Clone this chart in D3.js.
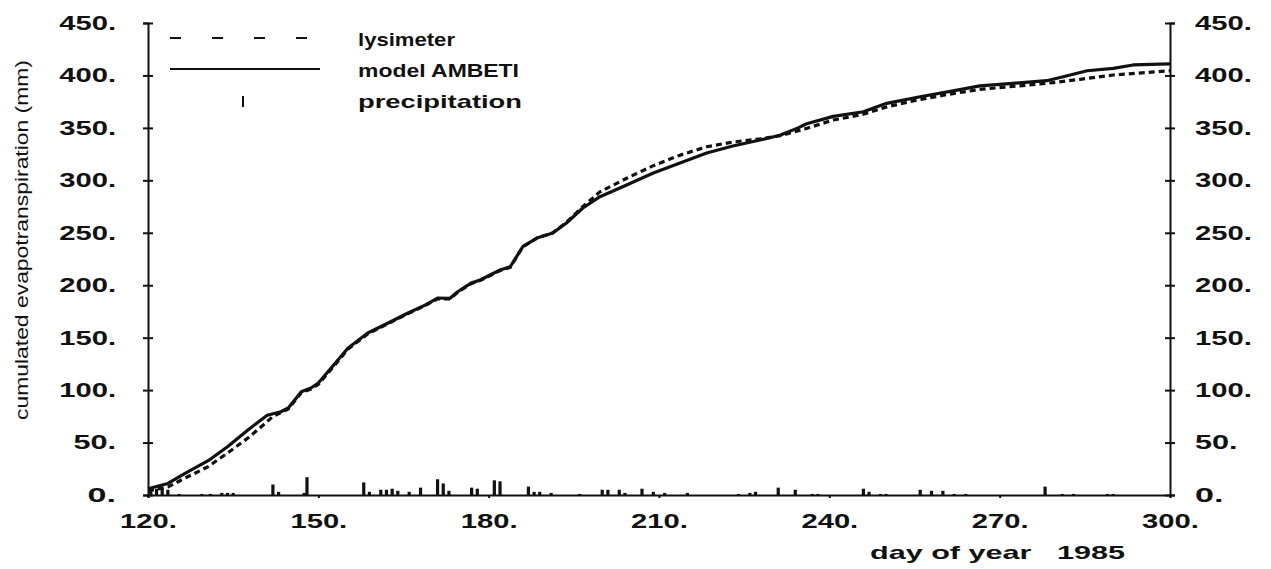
<!DOCTYPE html>
<html>
<head>
<meta charset="utf-8">
<script src="https://cdn.jsdelivr.net/npm/d3@7"></script>
<style>
  html, body { margin: 0; padding: 0; background: #fff; }
  svg { display: block; }
  text { font-family: "Liberation Sans", Arial, Helvetica, sans-serif; fill: #111; }
</style>
</head>
<body>
<svg id="chart" width="1271" height="569"></svg>
<script>
// ---- data ----
const modelDays = [120,123.5,127,130.6,134,137.6,141,143.4,144.7,147,148.7,150,153,155.2,158.7,162.3,165.8,168.8,171,173.2,174.6,176.9,178.5,182,183.8,186,188.5,191.3,193.7,196.6,199.6,204.3,209,213.7,218.4,223,227.8,231.3,234.5,236,240.7,246,250.1,256,262.5,266.5,272.3,278.3,281.2,285.4,290,293.5,300];
const modelET   = [6,11,22,32.7,46,62,76,79.4,83,98.5,102,106.8,125.8,140,154.4,164,173.5,181,187.8,187.5,194,202,205,214.5,217.6,236.7,245,249.8,259.3,273.6,284.4,295.5,307,316.5,326,332.7,338.4,343,350,354,361,365.4,373.4,379.7,386,390,392.5,395,398.8,404.5,406.8,410,411];

const lysiDays = [120,123.5,127,130.6,134,137.6,140.3,142,143.4,144.7,147,148.7,150,153,155.2,158.7,162.3,165.8,168.8,171,173.2,174.6,176.9,178.5,182,183.8,186,188.5,191.3,193.7,196.6,199.6,204.3,209,213.7,218.4,223,227.8,231.3,236,240.7,246,250.1,255.4,261,266.5,272.3,278.3,284.2,290,295,300];
const lysiET   = [4,7.6,17.4,27,40,54.3,66.7,75,78.5,82,97.5,101,105.5,124.5,139,153.5,163.5,173,180.5,187,187,193.5,201.5,204.5,214,217,236.5,245,250,260,275,289,302,314,324,332,336.5,339.5,342.5,349.5,357.5,363,370,376.5,382,386.7,389.5,392.5,396.3,400.4,402.5,404.5];

const precipDays = [120.5,121.5,122.5,123.5,125.5,129.5,131,133,134,135,142,143,147.5,148,158,159,161,162,163,164,166,168,171,172,173,177,178,181,182,187,188,189,191,196,200,201,203,204,207,209,211,215,224,226,227,231,234,237,238,246,247,249,250,256,258,260,262,264,278,281,283,289,290];
const precipMM   = [6,6,6,5,1,1,1,2,2,2,10,3,2,17,12,3,5,5,6,4,3,7,15,11,4,7,6,14,13,8,3,3,2,1,5,5,5,2,6,3,2,2,1,2,3,7,5,1,1,6,3,1,1,5,4,4,1,1,8,1,1,1,1];

const xTicks = [120,150,180,210,240,270,300];
const yTicks = [0,50,100,150,200,250,300,350,400,450];
const legendLabels = ["lysimeter", "model AMBETI", "precipitation"];
const yTitle = "cumulated evapotranspiration (mm)";
const xTitle = "day of year   1985";

// ---- drawing ----
const svg = d3.select("#chart");
const x = d3.scaleLinear().domain([120, 300]).range([148, 1170]);
const y = d3.scaleLinear().domain([0, 450]).range([495, 23]);
const ink = "#111";
const fmt = d => d + ".";

// precipitation bars
svg.append("g").selectAll("rect").data(precipDays).join("rect")
  .attr("x", d => x(d) - 1.6)
  .attr("width", 3.2)
  .attr("y", (d, i) => y(precipMM[i]))
  .attr("height", (d, i) => y(0) - y(precipMM[i]))
  .attr("fill", ink);

// curves
const lineGen = (days, vals) => d3.line().x((d, i) => x(days[i])).y((d, i) => y(vals[i]))(vals);
svg.append("path").attr("d", lineGen(lysiDays, lysiET))
  .attr("fill", "none").attr("stroke", ink).attr("stroke-width", 3.2)
  .attr("stroke-dasharray", "6,4");
svg.append("path").attr("d", lineGen(modelDays, modelET))
  .attr("fill", "none").attr("stroke", ink).attr("stroke-width", 3.2)
  .attr("stroke-linejoin", "round");

// axes
function styleAxis(g, crossing) {
  g.select(".domain").attr("stroke", ink).attr("stroke-width", 2);
  g.selectAll(".tick line").attr("stroke", ink).attr("stroke-width", 2);
  if (crossing) g.selectAll(".tick line").attr("x1", -5).attr("x2", 5);
  g.selectAll(".tick text").attr("font-size", 20).attr("font-weight", "bold").attr("fill", ink)
    .attr("font-family", "'Liberation Sans', Arial, sans-serif")
    .attr("textLength", d => String(fmt(d)).length * 14.2)
    .attr("lengthAdjust", "spacingAndGlyphs");
}
const axL = svg.append("g").attr("transform", `translate(${x(120)},0)`)
  .call(d3.axisLeft(y).tickValues(yTicks).tickFormat(fmt).tickSizeOuter(0).tickSize(5).tickPadding(27));
styleAxis(axL, true);
const axR = svg.append("g").attr("transform", `translate(${x(300)},0)`)
  .call(d3.axisRight(y).tickValues(yTicks).tickFormat(fmt).tickSizeOuter(0).tickSize(5).tickPadding(20));
styleAxis(axR, true);
const axB = svg.append("g").attr("transform", `translate(0,${y(0)})`)
  .call(d3.axisBottom(x).tickValues(xTicks).tickFormat(fmt).tickSizeOuter(0).tickSize(3).tickPadding(16));
styleAxis(axB, false);

// titles
svg.append("text").attr("transform", "translate(28,240) rotate(-90)")
  .attr("text-anchor", "middle").attr("font-size", 19)
  .attr("textLength", 360).attr("lengthAdjust", "spacingAndGlyphs")
  .text(yTitle);
svg.append("text").attr("x", 870).attr("y", 559).attr("font-size", 19).attr("font-weight", "bold")
  .attr("textLength", 255).attr("lengthAdjust", "spacingAndGlyphs")
  .attr("xml:space", "preserve").style("white-space", "pre")
  .text(xTitle);

// legend
const lg = svg.append("g");
lg.append("line").attr("x1", 170).attr("x2", 322).attr("y1", 38).attr("y2", 38)
  .attr("stroke", ink).attr("stroke-width", 2).attr("stroke-dasharray", "11,31");
lg.append("line").attr("x1", 170).attr("x2", 320).attr("y1", 69).attr("y2", 69)
  .attr("stroke", ink).attr("stroke-width", 2);
lg.append("line").attr("x1", 243).attr("x2", 243).attr("y1", 96).attr("y2", 107)
  .attr("stroke", ink).attr("stroke-width", 2);
const legW = [97, 161, 164];
lg.selectAll("text").data(legendLabels).join("text")
  .attr("x", 358).attr("y", (d, i) => 46 + i * 31)
  .attr("font-size", 19).attr("font-weight", "bold")
  .attr("textLength", (d, i) => legW[i]).attr("lengthAdjust", "spacingAndGlyphs")
  .text(d => d);
</script>
</body>
</html>
